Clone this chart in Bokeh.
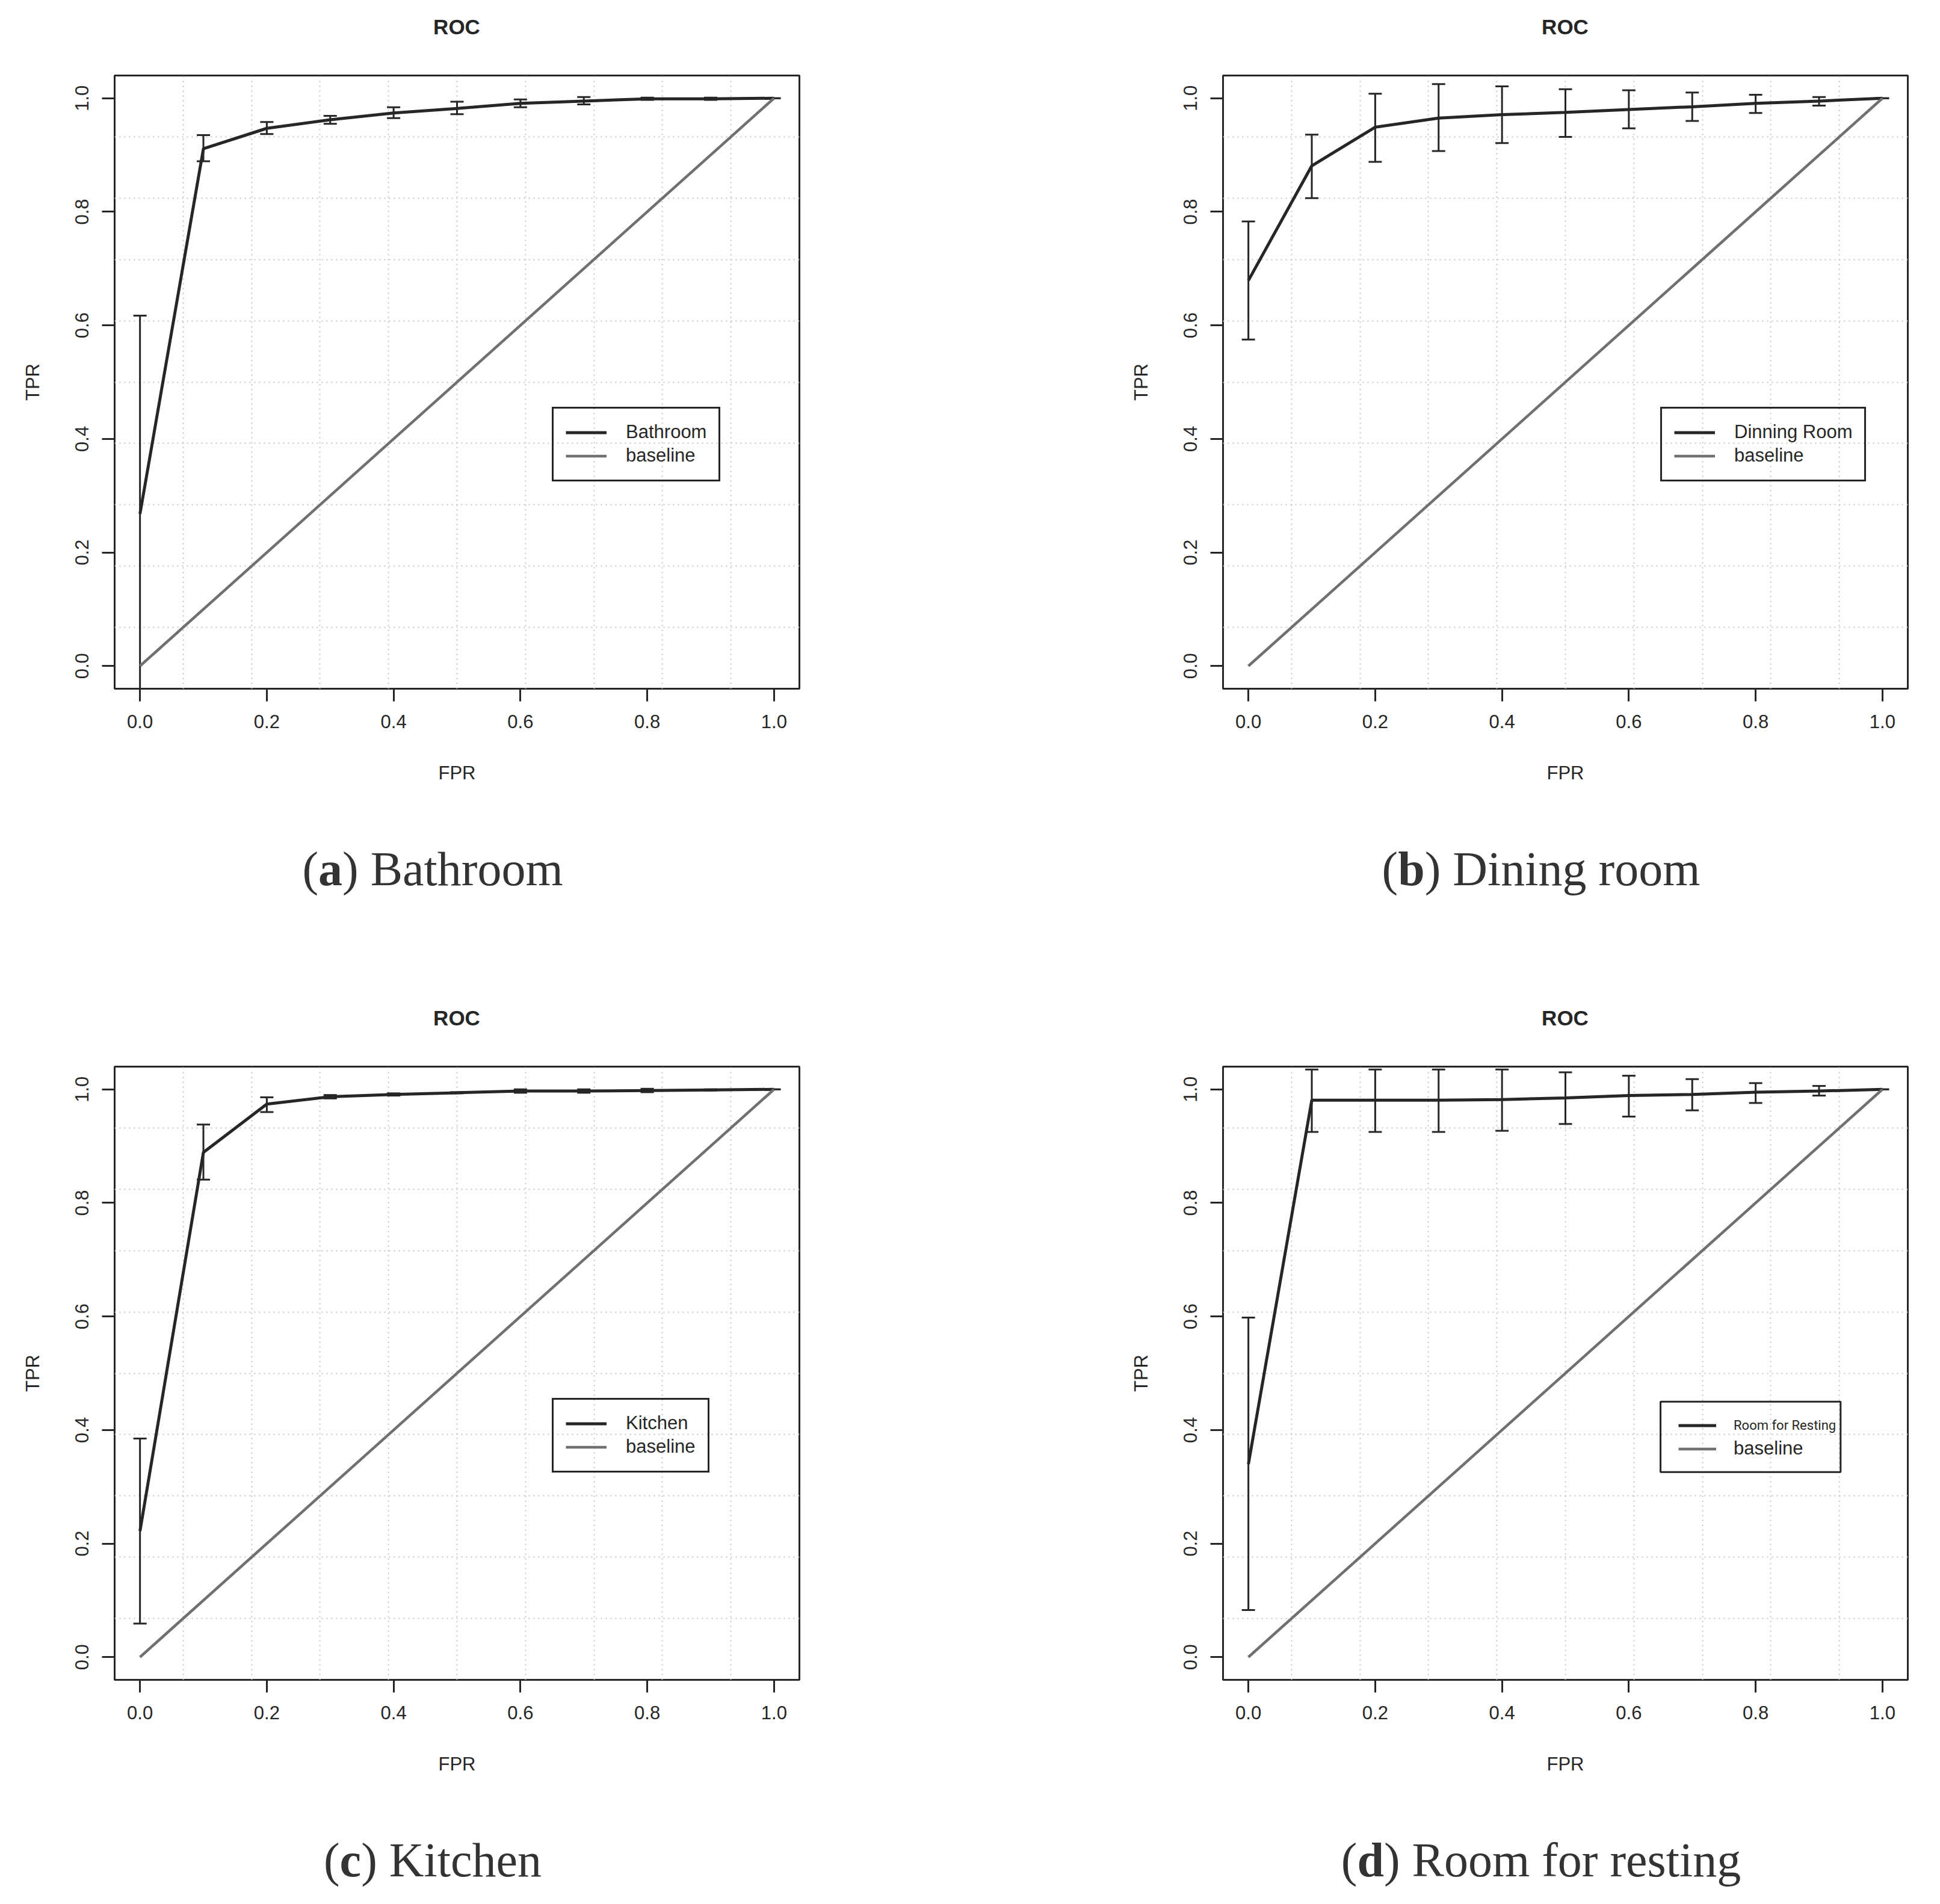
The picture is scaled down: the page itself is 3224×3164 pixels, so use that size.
from bokeh.plotting import figure
from bokeh.models import (Range1d, FixedTicker, PrintfTickFormatter, Legend,
                          LegendItem, BoxAnnotation, Div)
from bokeh.layouts import row, column
from bokeh.embed import file_html
from bokeh.resources import INLINE

# ---------------- data ----------------
fpr = [0.0, 0.1, 0.2, 0.3, 0.4, 0.5, 0.6, 0.7, 0.8, 0.9, 1.0]
baseline_x = [0.0, 1.0]
baseline_y = [0.0, 1.0]
tick_values = [0.0, 0.2, 0.4, 0.6, 0.8, 1.0]

tpr_bathroom = [0.268, 0.911, 0.947, 0.962, 0.974, 0.982, 0.991, 0.995, 0.999, 0.999, 1.0]
lo_bathroom = [-0.082, 0.889, 0.937, 0.955, 0.965, 0.972, 0.984, 0.989, 0.997, 0.997, 1.0]
hi_bathroom = [0.617, 0.935, 0.958, 0.969, 0.984, 0.994, 0.998, 1.002, 1.001, 1.001, 1.0]

tpr_dining = [0.679, 0.881, 0.949, 0.965, 0.971, 0.975, 0.980, 0.985, 0.991, 0.995, 1.0]
lo_dining = [0.575, 0.824, 0.888, 0.907, 0.921, 0.932, 0.947, 0.960, 0.974, 0.987, 1.0]
hi_dining = [0.783, 0.936, 1.008, 1.025, 1.021, 1.016, 1.014, 1.010, 1.006, 1.002, 1.0]

tpr_kitchen = [0.222, 0.889, 0.974, 0.987, 0.991, 0.994, 0.997, 0.997, 0.998, 0.999, 1.0]
lo_kitchen = [0.059, 0.841, 0.960, 0.984, 0.989, 0.993, 0.994, 0.994, 0.995, 0.998, 1.0]
hi_kitchen = [0.385, 0.938, 0.986, 0.990, 0.993, 0.995, 1.000, 1.000, 1.001, 1.000, 1.0]

tpr_resting = [0.340, 0.981, 0.981, 0.981, 0.982, 0.985, 0.989, 0.991, 0.995, 0.997, 1.0]
lo_resting = [0.083, 0.925, 0.925, 0.925, 0.927, 0.939, 0.952, 0.963, 0.976, 0.989, 1.0]
hi_resting = [0.598, 1.035, 1.035, 1.035, 1.035, 1.030, 1.024, 1.018, 1.011, 1.006, 1.0]

legend_labels = ["Bathroom", "Dinning Room", "Kitchen", "Room for Resting"]
caption_letters = ["a", "b", "c", "d"]
caption_names = ["Bathroom", "Dining room", "Kitchen", "Room for resting"]
title_text = "ROC"

# ---------------- style / layout ----------------
LO, HI = -0.04, 1.04
FW, FH = 1138, 1019
DX = (HI - LO) / FW
DY = (HI - LO) / FH
INK = "#262626"
GREY = "#707070"
SANS = "Liberation Sans"
BORDER_LEFT = 190

# grid like R's grid(10, 10): 9 interior lines of the plotting region
grid_pos = [LO + (HI - LO) * k / 10 for k in range(1, 10)]


def make_panel(tpr, lo, hi, leg_label, border_right, small_legend=False):
    p = figure(frame_width=FW, frame_height=FH, title=None,
               min_border_left=BORDER_LEFT, min_border_right=border_right,
               min_border_top=35, min_border_bottom=200,
               x_range=Range1d(LO, HI), y_range=Range1d(LO, HI),
               output_backend="svg", toolbar_location=None, tools="")
    p.background_fill_color = "white"
    p.border_fill_color = "white"
    p.outline_line_color = INK
    p.outline_line_width = 3
    p.outline_line_alpha = 1

    for g in (p.xgrid, p.ygrid):
        g.ticker = FixedTicker(ticks=grid_pos)
        g.grid_line_color = "#c4c4c4"
        g.grid_line_width = 2
        g.grid_line_dash = "2 6"

    for ax in (p.xaxis, p.yaxis):
        ax.ticker = FixedTicker(ticks=tick_values)
        ax.formatter = PrintfTickFormatter(format="%.1f")
        ax.axis_line_color = None
        ax.major_tick_out = 21
        ax.major_tick_in = 0
        ax.major_tick_line_width = 3
        ax.major_tick_line_color = INK
        ax.minor_tick_line_color = None
        ax.major_label_text_font = SANS
        ax.major_label_text_font_size = "31px"
        ax.major_label_text_color = INK
        ax.major_label_standoff = 22
        ax.axis_label_text_font = SANS
        ax.axis_label_text_font_size = "31px"
        ax.axis_label_text_font_style = "normal"
        ax.axis_label_text_color = INK
    p.xaxis.axis_label = "FPR"
    p.yaxis.axis_label = "TPR"
    p.xaxis.axis_label_standoff = 54
    p.yaxis.axis_label_standoff = 51
    p.yaxis.major_label_orientation = "vertical"

    curve = p.line(fpr, tpr, line_width=5, line_color=INK)
    p.segment(x0=fpr, y0=lo, x1=fpr, y1=hi, line_width=3, line_color=INK)
    p.dash(x=fpr, y=hi, size=22, line_width=3, line_color=INK)
    p.dash(x=fpr, y=lo, size=22, line_width=3, line_color=INK)
    base = p.line(baseline_x, baseline_y, line_width=4.5, line_color=GREY)

    # legend anchored (like R's legend(x=0.65, y=0.45)) at its top-left corner
    lx = (0.65 - LO) / DX
    ltop = (0.45 - LO) / DY
    if not small_legend:
        leg = Legend(items=[LegendItem(label=leg_label, renderers=[curve]),
                            LegendItem(label="baseline", renderers=[base])],
                     location=(lx, ltop - 118), margin=0, padding=20, spacing=0,
                     label_height=39, glyph_height=39, glyph_width=68, label_standoff=32,
                     border_line_color=INK, border_line_width=3, border_line_alpha=1,
                     background_fill_alpha=0,
                     label_text_font=SANS, label_text_font_size="31px", label_text_color=INK)
        p.add_layout(leg)
    else:
        common = dict(margin=0, padding=0, spacing=0, label_height=39, glyph_height=39,
                      glyph_width=63, label_standoff=29, border_line_color=None,
                      background_fill_alpha=0, label_text_color=INK)
        leg1 = Legend(items=[LegendItem(label=leg_label, renderers=[curve])],
                      location=(lx + 30, ltop - 39 - 20),
                      label_text_font="Roboto", label_text_font_size="22px", **common)
        leg2 = Legend(items=[LegendItem(label="baseline", renderers=[base])],
                      location=(lx + 30, ltop - 78 - 20),
                      label_text_font=SANS, label_text_font_size="31px", **common)
        p.add_layout(leg1)
        p.add_layout(leg2)
        p.add_layout(BoxAnnotation(left=0.65, right=0.934, top=0.45, bottom=0.326,
                                   fill_alpha=0, line_color=INK, line_width=3, line_alpha=1))
    return p


def centered_div(inner, center_x, width, height, top, line_height, font_css):
    html = (f"<div style=\"position:relative;width:{width}px;height:{height}px;margin:0;\">"
            f"<div style=\"position:absolute;left:{center_x}px;top:{top}px;"
            f"transform:translateX(-50%);white-space:nowrap;line-height:{line_height}px;"
            f"{font_css}\">{inner}</div></div>")
    return Div(text=html, width=width, height=height, margin=0)


def title_div(width):
    css = f"font-family:'{SANS}',sans-serif;font-size:35px;font-weight:bold;color:{INK};"
    return centered_div(title_text, BORDER_LEFT + FW / 2, width, 90, 0, 90, css)


def caption_div(letter, name, width, height):
    css = "font-family:'Liberation Serif',serif;font-size:80px;color:#333333;"
    return centered_div(f"(<b>{letter}</b>) {name}", BORDER_LEFT + FW / 2 - 40,
                        width, height, 50, 100, css)


W_LEFT = BORDER_LEFT + FW + 514
W_RIGHT = BORDER_LEFT + FW + 46

pa = make_panel(tpr_bathroom, lo_bathroom, hi_bathroom, legend_labels[0], 514)
pb = make_panel(tpr_dining, lo_dining, hi_dining, legend_labels[1], 46)
pc = make_panel(tpr_kitchen, lo_kitchen, hi_kitchen, legend_labels[2], 514)
pd = make_panel(tpr_resting, lo_resting, hi_resting, legend_labels[3], 46, small_legend=True)

top_row = row(column(title_div(W_LEFT), pa, caption_div(caption_letters[0], caption_names[0], W_LEFT, 303)),
              column(title_div(W_RIGHT), pb, caption_div(caption_letters[1], caption_names[1], W_RIGHT, 303)))
bottom_row = row(column(title_div(W_LEFT), pc, caption_div(caption_letters[2], caption_names[2], W_LEFT, 156)),
                 column(title_div(W_RIGHT), pd, caption_div(caption_letters[3], caption_names[3], W_RIGHT, 156)))
layout = column(top_row, bottom_row)
open("out.html", "w").write(file_html(layout, INLINE))
